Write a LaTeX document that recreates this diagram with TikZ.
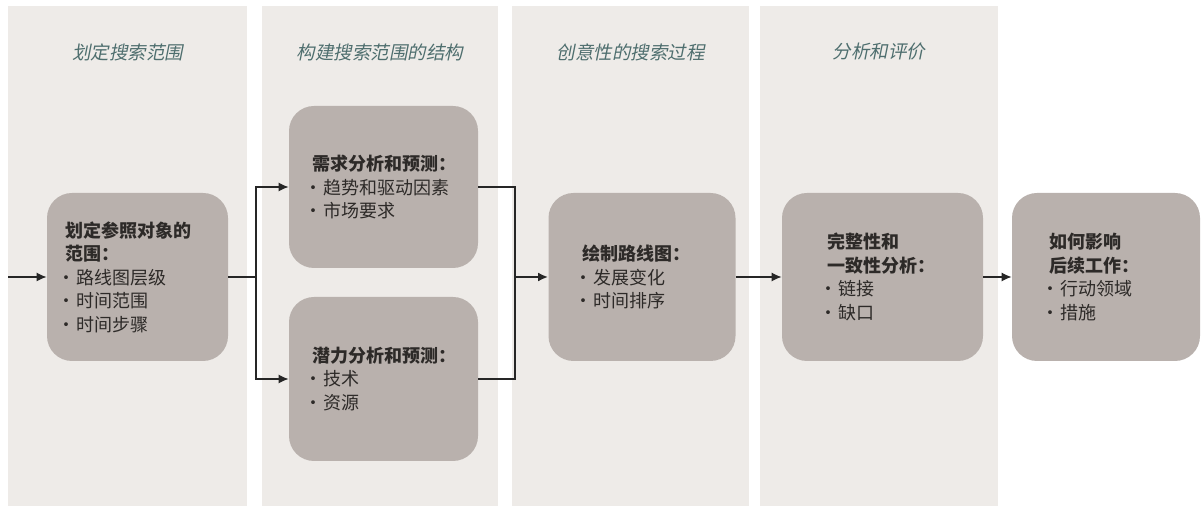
\documentclass[tikz,border=0pt]{standalone}
\usepackage{fontspec}
\setmainfont{Noto Sans CJK SC}
\newfontfamily\headfont[FakeSlant=0.2]{Noto Sans CJK SC}
\usetikzlibrary{arrows.meta}

\definecolor{colbg}{RGB}{238,235,232}
\definecolor{boxgray}{RGB}{185,177,173}
\definecolor{headteal}{RGB}{78,110,110}
\definecolor{textgray}{RGB}{45,42,40}

\newcommand\bul{\leavevmode\hbox to 0.62em{\kern-0.42em·\hss}}

\tikzset{
  head/.style = {font=\headfont\fontsize{9.25}{11}\selectfont, text=headteal},
  stagebox/.style = {fill=boxgray, rounded corners=12.5pt, align=left, inner ysep=0pt,
                     font=\fontsize{9}{11.75}\selectfont, text=textgray},
  conn/.style = {draw=black!85, line width=0.6pt},
  arr/.style = {conn, -{Latex[length=5pt,width=4.5pt]}}
}

\begin{document}
\begin{tikzpicture}[x=0.5pt, y=-0.5pt]
        \useasboundingbox (0,0) rectangle (1202,506);
        % columns
        \foreach \l/\r in {8/247, 262/498, 512/749, 760/998}
          \fill[colbg] (\l,6) rectangle (\r,506);

        \node[head] at (127.5, 52) (h1) {划定搜索范围};
        \node[head] at (380, 52)   (h2) {构建搜索范围的结构};
        \node[head] at (630.5, 52) (h3) {创意性的搜索过程};
        \node[head] at (879, 52)   (h4) {分析和评价};

        \node[stagebox, text width=72.5pt, inner xsep=9pt, minimum height=84pt] at (137.5, 277) (ref)
          {\textbf{划定参照对象的}\\\textbf{范围：}\\\bul 路线图层级\\\bul 时间范围\\\bul 时间步骤};
        \node[stagebox, text width=71.5pt, inner xsep=11.5pt, minimum height=81pt] at (383.5, 187) (demand)
          {\textbf{需求分析和预测：}\\\bul 趋势和驱动因素\\\bul 市场要求};
        \node[stagebox, text width=71.5pt, inner xsep=11.5pt, minimum height=82pt] at (383.5, 379) (potential)
          {\textbf{潜力分析和预测：}\\\bul 技术\\\bul 资源};
        \node[stagebox, text width=59.5pt, inner xsep=17pt, minimum height=84pt] at (642, 277) (roadmap)
          {\textbf{绘制路线图：}\\\bul 发展变化\\\bul 时间排序};
        \node[stagebox, text width=55.5pt, inner xsep=22.5pt, minimum height=84pt] at (882.5, 277) (check)
          {\textbf{完整性和}\\\textbf{一致性分析：}\\\bul 链接\\\bul 缺口};
        \node[stagebox, text width=57pt, inner xsep=18.5pt, minimum height=84pt] at (1106, 277) (impact)
          {\textbf{如何影响}\\\textbf{后续工作：}\\\bul 行动领域\\\bul 措施};

        \coordinate (in) at (8, 277);
        \coordinate (split) at (256, 277);
        \coordinate (join) at (515, 277);

        \draw[arr] (in) -- (ref);
        \draw[conn] (ref) -- (split);
        \draw[arr] (split) |- (demand);
        \draw[arr] (split) |- (potential);
        \draw[conn] (demand) -| (join);
        \draw[conn] (potential) -| (join);
        \draw[arr, line width=1pt] (join) -- (roadmap);
        \draw[arr] (roadmap) -- (check);
        \draw[arr] (check) -- (impact);
\end{tikzpicture}
\end{document}
